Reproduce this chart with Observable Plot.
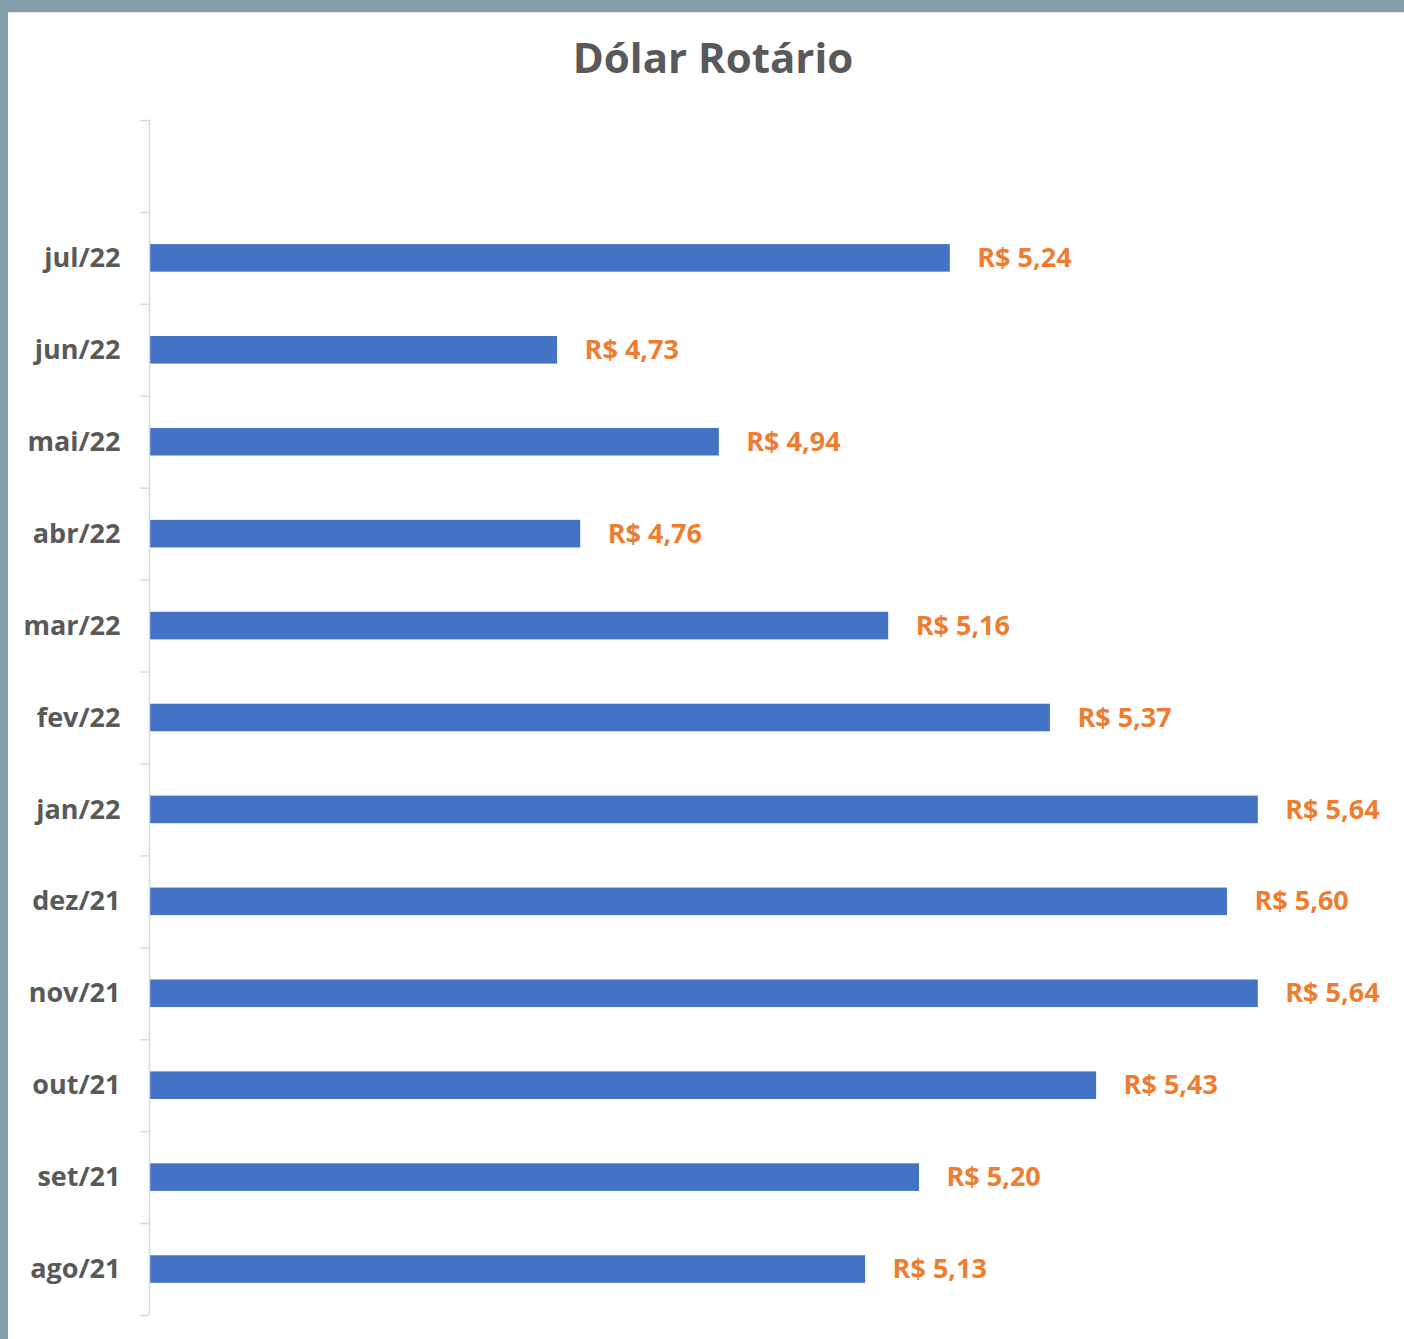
<!DOCTYPE html>
<html>
<head>
<meta charset="utf-8">
<script src="https://cdn.jsdelivr.net/npm/d3@7"></script>
<script src="https://cdn.jsdelivr.net/npm/@observablehq/plot@0.6"></script>
<style>
  html, body { margin: 0; padding: 0; }
  body { width: 1404px; height: 1339px; background: #869dab; position: relative; overflow: hidden; font-family: "Open Sans", sans-serif; }
  #panel { position: absolute; left: 8px; top: 12px; width: 1396px; height: 1327px; background: #ffffff; border-top: 1px solid #e4e4e4; box-sizing: border-box; }
  #title { position: absolute; left: 0; top: 36px; width: 1426px; text-align: center; font: 700 42px/1 "Open Sans", sans-serif; color: #595959; }
  #chart { position: absolute; left: 0; top: 0; }
</style>
</head>
<body>
<div id="panel"></div>
<div id="title">Dólar Rotário</div>
<div id="chart"></div>
<script>
// Data
const months = ["jul/22","jun/22","mai/22","abr/22","mar/22","fev/22","jan/22","dez/21","nov/21","out/21","set/21","ago/21"];
const values = [5.24, 4.73, 4.94, 4.76, 5.16, 5.37, 5.64, 5.60, 5.64, 5.43, 5.20, 5.13];
const blankSlot = "";          // empty category row at the top of the chart
const axisMin = 4.2;
const axisMax = 5.8;

const data = months.map((m, i) => ({month: m, value: values[i]}));
const yDomain = [blankSlot, ...months];

const W = 1404, H = 1339;
const mTop = 120, mBottom = 24, mLeft = 149, mRight = 23;
const step = (H - mTop - mBottom) / yDomain.length;
const fmt = v => "R$ " + d3.format(".2f")(v).replace(".", ",");

const plot = Plot.plot({
  width: W,
  height: H,
  marginTop: mTop,
  marginBottom: mBottom,
  marginLeft: mLeft,
  marginRight: mRight,
  style: {background: "transparent", fontFamily: "Open Sans, sans-serif"},
  x: {domain: [axisMin, axisMax], axis: null},
  y: {domain: yDomain, paddingInner: 0.7, paddingOuter: 0.35, round: false, label: null},
  marks: [
    Plot.barX(data, {y: "month", x1: axisMin, x2: "value", fill: "#4472c4"}),
    Plot.text(data, {
      y: "month", x: "value", text: d => fmt(d.value),
      textAnchor: "start", dx: 27, fill: "#ed7d31",
      fontSize: 27, fontWeight: 700
    }),
    Plot.ruleX([axisMin], {stroke: "#d9d9d9", strokeWidth: 1.5}),
    Plot.axisY({
      tickSize: 0, tickPadding: 29, label: null,
      fontSize: 27, fontWeight: 700, fill: "#595959"
    }),
    Plot.axisY(yDomain, {
      tickSize: 9, tickFormat: () => "", label: null, dy: -step / 2,
      stroke: "#d9d9d9", strokeWidth: 1.5
    }),
    Plot.axisY([months[months.length - 1]], {
      tickSize: 9, tickFormat: () => "", label: null, dy: step / 2,
      stroke: "#d9d9d9", strokeWidth: 1.5
    })
  ]
});
document.getElementById("chart").appendChild(plot);
</script>
</body>
</html>
